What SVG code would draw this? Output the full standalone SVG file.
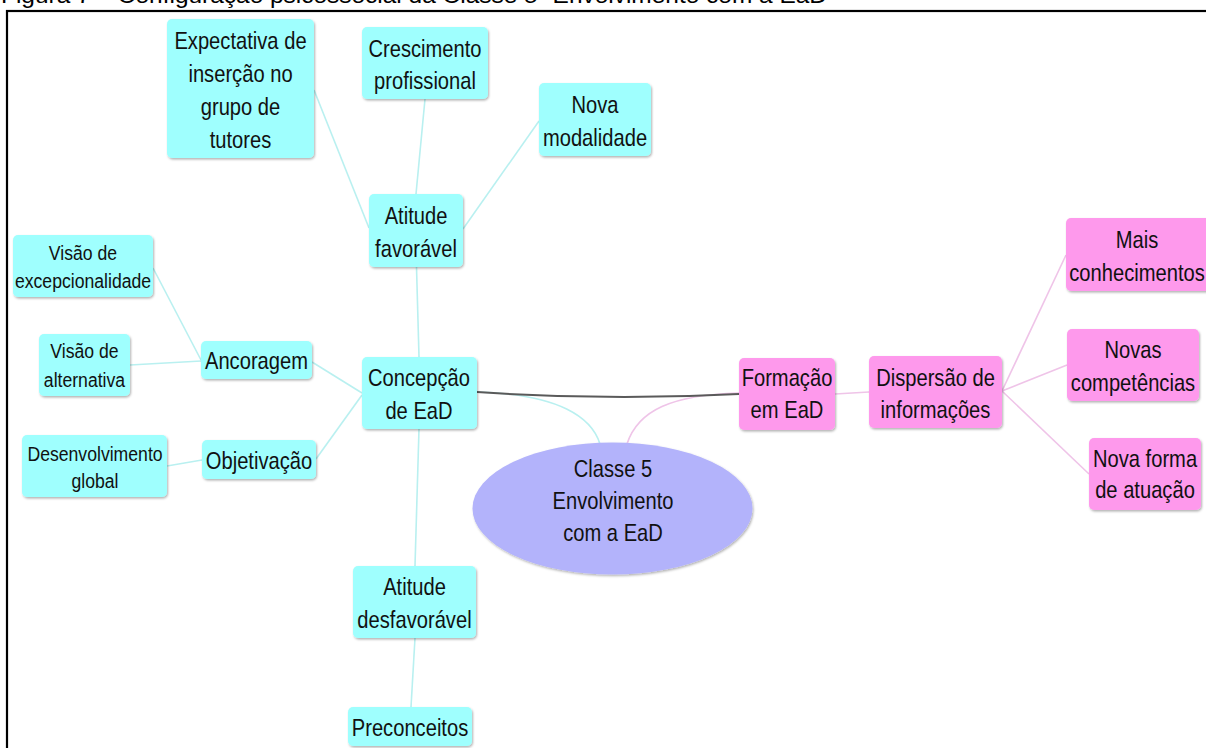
<svg xmlns="http://www.w3.org/2000/svg" width="1206" height="748" viewBox="0 0 1206 748">
<defs>
<filter id="sh" x="-10%" y="-10%" width="120%" height="130%">
<feDropShadow dx="1" dy="1.5" stdDeviation="1" flood-color="#000" flood-opacity="0.3"/>
</filter>
<style>
.c{fill:#9ffffe;filter:url(#sh)}
.p{fill:#fe99ec;filter:url(#sh)}
.t{font-family:"Liberation Sans",Arial,sans-serif;font-size:24px;fill:#111;text-anchor:middle}
.s{font-size:21px}
.lc{fill:none;stroke:#b9f0f0;stroke-width:1.6}
.lp{fill:none;stroke:#efc4e8;stroke-width:1.6}
</style>
</defs>
<rect width="1206" height="748" fill="#fff"/>
<text x="1" y="3" font-family="Liberation Sans, Arial, sans-serif" font-size="21.5" textLength="826" lengthAdjust="spacingAndGlyphs" fill="#000">Figura 7 – Configuração psicossocial da Classe 5- Envolvimento com a EaD</text>
<rect x="7" y="11" width="1260" height="800" fill="none" stroke="#000" stroke-width="2.2"/>

<g id="connectors">
<line class="lc" x1="314" y1="90" x2="369" y2="228"/>
<line class="lc" x1="425" y1="99" x2="416" y2="194"/>
<line class="lc" x1="539" y1="121" x2="463" y2="229"/>
<line class="lc" x1="416.5" y1="267" x2="419" y2="357"/>
<line class="lc" x1="153" y1="268" x2="201" y2="360"/>
<line class="lc" x1="130" y1="365" x2="201" y2="361"/>
<line class="lc" x1="312" y1="362" x2="362" y2="393"/>
<line class="lc" x1="316" y1="459" x2="362" y2="395"/>
<line class="lc" x1="167" y1="466" x2="202" y2="460"/>
<line class="lc" x1="419" y1="429" x2="415" y2="566"/>
<line class="lc" x1="415" y1="638" x2="411" y2="707"/>
<path class="lc" d="M477,392 C560,394 592,418 600,444"/>
<path class="lp" d="M739,393 C672,395 638,410 627,444"/>
<path d="M477,392 Q608,401 739,394" fill="none" stroke="#5a5a5a" stroke-width="2"/>
<line class="lp" x1="835" y1="394" x2="869" y2="392"/>
<line class="lp" x1="1002" y1="391" x2="1066" y2="255"/>
<line class="lp" x1="1002" y1="391" x2="1067" y2="365"/>
<line class="lp" x1="1002" y1="391" x2="1089" y2="474"/>
</g>

<g id="n-expectativa">
<rect class="c" x="167" y="19" width="147" height="139" rx="5"/>
<text class="t" transform="translate(240.5 0) scale(0.84 1)"><tspan x="0" y="49">Expectativa de</tspan><tspan x="0" y="82">inserção no</tspan><tspan x="0" y="115">grupo de</tspan><tspan x="0" y="148">tutores</tspan></text>
</g>
<g id="n-crescimento">
<rect class="c" x="362" y="27" width="126" height="72" rx="5"/>
<text class="t" transform="translate(425 0) scale(0.84 1)"><tspan x="0" y="57">Crescimento</tspan><tspan x="0" y="89">profissional</tspan></text>
</g>
<g id="n-nova-modalidade">
<rect class="c" x="539" y="83" width="112" height="73" rx="5"/>
<text class="t" transform="translate(595 0) scale(0.84 1)"><tspan x="0" y="113">Nova</tspan><tspan x="0" y="146">modalidade</tspan></text>
</g>
<g id="n-atitude-favoravel">
<rect class="c" x="369" y="194" width="94" height="73" rx="5"/>
<text class="t" transform="translate(416 0) scale(0.84 1)"><tspan x="0" y="224">Atitude</tspan><tspan x="0" y="257">favorável</tspan></text>
</g>
<g id="n-visao-excepcionalidade">
<rect class="c" x="13" y="235" width="140" height="62" rx="5"/>
<text class="t s" transform="translate(83 0) scale(0.84 1)"><tspan x="0" y="260">Visão de</tspan><tspan x="0" y="288">excepcionalidade</tspan></text>
</g>
<g id="n-visao-alternativa">
<rect class="c" x="39" y="334" width="91" height="62" rx="5"/>
<text class="t s" transform="translate(84.5 0) scale(0.84 1)"><tspan x="0" y="358">Visão de</tspan><tspan x="0" y="387">alternativa</tspan></text>
</g>
<g id="n-ancoragem">
<rect class="c" x="201" y="341" width="111" height="38" rx="5"/>
<text class="t" transform="translate(256.5 0) scale(0.84 1)"><tspan x="0" y="369">Ancoragem</tspan></text>
</g>
<g id="n-concepcao">
<rect class="c" x="362" y="357" width="115" height="72" rx="5"/>
<text class="t" transform="translate(419 0) scale(0.84 1)"><tspan x="0" y="386">Concepção</tspan><tspan x="0" y="419">de EaD</tspan></text>
</g>
<g id="n-desenvolvimento">
<rect class="c" x="22" y="435" width="145" height="62" rx="5"/>
<text class="t s" transform="translate(95 0) scale(0.84 1)"><tspan x="0" y="461">Desenvolvimento</tspan><tspan x="0" y="488">global</tspan></text>
</g>
<g id="n-objetivacao">
<rect class="c" x="202" y="440" width="114" height="39" rx="5"/>
<text class="t" transform="translate(259 0) scale(0.84 1)"><tspan x="0" y="469">Objetivação</tspan></text>
</g>
<g id="n-atitude-desfavoravel">
<rect class="c" x="353" y="566" width="123" height="72" rx="5"/>
<text class="t" transform="translate(414.5 0) scale(0.84 1)"><tspan x="0" y="595">Atitude</tspan><tspan x="0" y="628">desfavorável</tspan></text>
</g>
<g id="n-preconceitos">
<rect class="c" x="348" y="707" width="124" height="39" rx="5"/>
<text class="t" transform="translate(410 0) scale(0.84 1)"><tspan x="0" y="736">Preconceitos</tspan></text>
</g>
<g id="n-classe5">
<ellipse cx="612.5" cy="508.5" rx="140" ry="66" fill="#b3b3fb" filter="url(#sh)"/>
<text class="t" transform="translate(613 0) scale(0.84 1)"><tspan x="0" y="477">Classe 5</tspan><tspan x="0" y="509">Envolvimento</tspan><tspan x="0" y="541">com a EaD</tspan></text>
</g>
<g id="n-formacao">
<rect class="p" x="739" y="358" width="96" height="72" rx="5"/>
<text class="t" transform="translate(787 0) scale(0.84 1)"><tspan x="0" y="386">Formação</tspan><tspan x="0" y="418">em EaD</tspan></text>
</g>
<g id="n-dispersao">
<rect class="p" x="869" y="356" width="133" height="72" rx="5"/>
<text class="t" transform="translate(935.5 0) scale(0.84 1)"><tspan x="0" y="386">Dispersão de</tspan><tspan x="0" y="418">informações</tspan></text>
</g>
<g id="n-mais-conhecimentos">
<rect class="p" x="1066" y="218" width="146" height="73" rx="5"/>
<text class="t" transform="translate(1137 0) scale(0.84 1)"><tspan x="0" y="248">Mais</tspan><tspan x="0" y="281">conhecimentos</tspan></text>
</g>
<g id="n-novas-competencias">
<rect class="p" x="1067" y="329" width="132" height="72" rx="5"/>
<text class="t" transform="translate(1133 0) scale(0.84 1)"><tspan x="0" y="358">Novas</tspan><tspan x="0" y="391">competências</tspan></text>
</g>
<g id="n-nova-forma">
<rect class="p" x="1089" y="438" width="112" height="72" rx="5"/>
<text class="t" transform="translate(1145 0) scale(0.84 1)"><tspan x="0" y="467">Nova forma</tspan><tspan x="0" y="498">de atuação</tspan></text>
</g>
</svg>
